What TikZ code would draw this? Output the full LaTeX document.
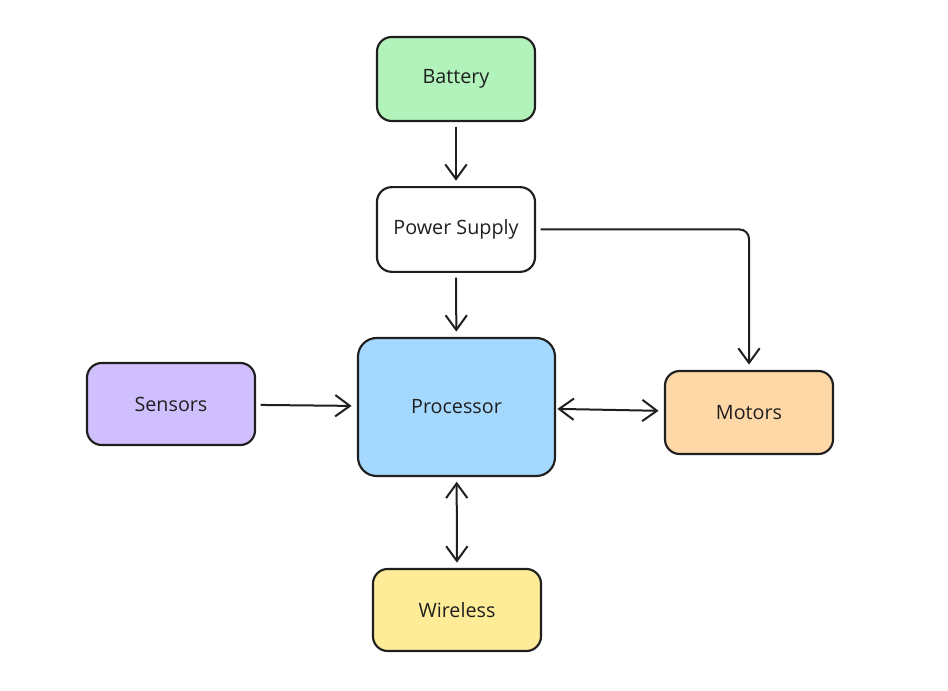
\documentclass[tikz,border=0pt]{standalone}
\usepackage{fontspec}
\setmainfont{Open Sans}
\usetikzlibrary{arrows.meta}

\tikzset{
  block/.style={draw=black!88, line width=1.6pt, rounded corners=11pt, align=center,
    font=\fontsize{14.8}{17}\selectfont, text=black!88, inner sep=0pt},
  arr/.style={draw=black!88, line width=1.5pt, -{Straight Barb[length=11pt,width=16pt,line width=1.5pt]},
    shorten <=3.5pt, shorten >=4pt},
  dbl/.style={arr, {Straight Barb[length=11pt,width=16pt,line width=1.5pt]}-{Straight Barb[length=11pt,width=16pt,line width=1.5pt]}}
}

\begin{document}
\begin{tikzpicture}[x=0.75pt,y=0.75pt,yscale=-1,xscale=1]
\useasboundingbox (0,0) rectangle (948,691);

%Shape: Rounded Rectangle [battery]
\node[block, fill={rgb,255:red,178;green,242;blue,187}, minimum width=118.5pt, minimum height=63pt] (battery) at (456,79) {Battery};
%Shape: Rounded Rectangle [power supply]
\node[block, fill=white, minimum width=118.5pt, minimum height=63.5pt] (power) at (456,229.5) {Power Supply};
%Shape: Rounded Rectangle [processor]
\node[block, fill={rgb,255:red,165;green,216;blue,255}, minimum width=147.75pt, minimum height=103.5pt, rounded corners=14pt] (processor) at (456.5,407) {Processor};
%Shape: Rounded Rectangle [sensors]
\node[block, fill={rgb,255:red,208;green,191;blue,255}, minimum width=126pt, minimum height=61.5pt] (sensors) at (171,404) {Sensors};
%Shape: Rounded Rectangle [motors]
\node[block, fill={rgb,255:red,255;green,216;blue,168}, minimum width=126pt, minimum height=62.25pt] (motors) at (749,412.5) {Motors};
%Shape: Rounded Rectangle [wireless]
\node[block, fill={rgb,255:red,255;green,236;blue,153}, minimum width=126pt, minimum height=61.5pt] (wireless) at (457,610) {Wireless};

%Straight Lines
\draw[arr] (battery) -- (power);
\draw[arr] (power) -- (processor);
\draw[arr] (sensors) -- (processor);
\draw[dbl, shorten <=1pt] (processor) -- (motors);
\draw[dbl] (processor) -- (wireless);
%Elbow Line
\draw[arr, rounded corners=7pt] (power.east) -- (power.east -| motors) -- (motors);

\end{tikzpicture}
\end{document}
